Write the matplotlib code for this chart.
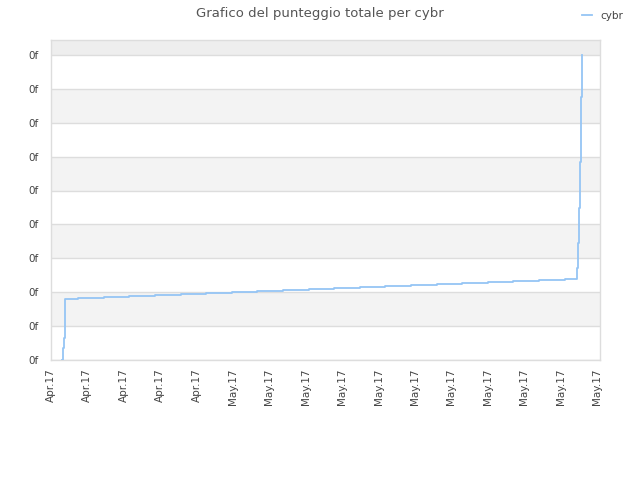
import numpy as np
import matplotlib
matplotlib.use("Agg")
import matplotlib.pyplot as plt


# 数据: 天数 (x) 与 总分 (y)，按阶梯显示
days = [0.35, 0.39, 0.43, 0.47, 1, 2, 3, 4, 5, 6, 7, 8, 9, 10,
        11, 12, 13, 14, 15, 16, 17, 18, 19, 20,
        20.47, 20.51, 20.55, 20.59, 20.63, 20.66]
score = [0.0, 0.35, 0.65, 1.79, 1.83, 1.86, 1.89, 1.92, 1.95, 1.98, 2.01, 2.04,
         2.07, 2.10, 2.13, 2.15, 2.18, 2.21, 2.24, 2.27, 2.30, 2.33, 2.36, 2.39,
         2.72, 3.45, 4.49, 5.85, 7.77, 9.0]

tick_labels = ["Apr.17"] * 5 + ["May.17"] * 11
y_ticks = list(range(10))
y_labels = ["0f"] * 10


def main():
    fig = plt.figure(figsize=(6.4, 4.8), dpi=100)
    ax = fig.add_axes([0.0797, 0.25, 0.8578, 0.6667])

    x_min, x_max = -0.066, 21.38
    y_max = 9.44

    # 背景条纹
    for i in range(10):
        if i % 2 == 1:
            ax.axhspan(i, i + 1, color="#f3f3f3", zorder=0, lw=0)
    ax.axhspan(9, y_max, color="#eeeeee", zorder=0, lw=0)

    for y in y_ticks:
        ax.axhline(y, color="#dddddd", lw=1, zorder=1)

    ax.step(days, score, where="post", color="#95c5f5", lw=1.3,
            label="cybr", zorder=3)

    tick_pos = [-0.066 + 1.422 * k for k in range(len(tick_labels))]
    ax.set_xticks(tick_pos)
    ax.set_xticklabels(tick_labels, rotation=90, fontsize=7.5, color="#444444")
    ax.set_yticks(y_ticks)
    ax.set_yticklabels(y_labels, fontsize=7.5, color="#444444")
    ax.tick_params(axis="y", length=0, pad=9)
    ax.tick_params(axis="x", length=0, pad=6)

    ax.set_xlim(x_min, x_max)
    ax.set_ylim(0, y_max)

    for s in ax.spines.values():
        s.set_color("#dddddd")
        s.set_linewidth(1)

    fig.suptitle("Grafico del punteggio totale per cybr", fontsize=9.5,
                 color="#555555", y=0.985)
    fig.legend(loc="upper right", bbox_to_anchor=(0.989, 0.997), frameon=False,
               fontsize=7.5, handlelength=1.0, labelcolor="#444444")

    fig.savefig("out.png", dpi=100)


if __name__ == "__main__":
    main()
